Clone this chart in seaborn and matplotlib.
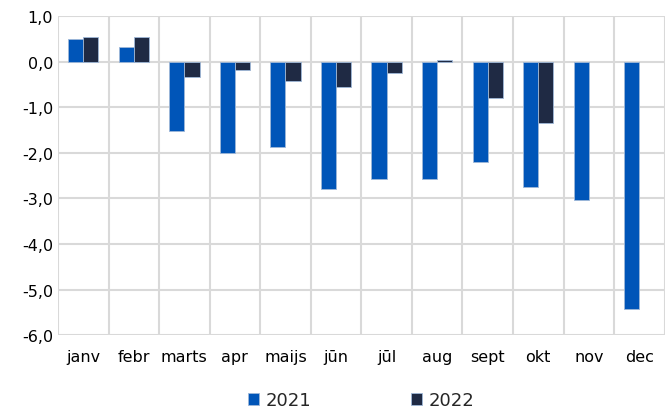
import numpy as np
import pandas as pd
import matplotlib
matplotlib.use("Agg")
import matplotlib.pyplot as plt
import seaborn as sns

months = ["janv", "febr", "marts", "apr", "maijs", "jūn", "jūl", "aug", "sept", "okt", "nov", "dec"]
vals2021 = [0.51, 0.32, -1.52, -2.0, -1.87, -2.8, -2.58, -2.58, -2.19, -2.74, -3.04, -5.43]
vals2022 = [0.55, 0.55, -0.33, -0.18, -0.42, -0.56, -0.24, 0.03, -0.79, -1.35, np.nan, np.nan]
years = ["2021", "2022"]
colors = ["#0055B8", "#1F2A44"]

df = pd.DataFrame({
    "month": months * 2,
    "value": vals2021 + vals2022,
    "year": [years[0]] * 12 + [years[1]] * 12,
})

sns.set_style("white")
plt.rcParams['font.family'] = ['DejaVu Sans']

fig, ax = plt.subplots(figsize=(6.66, 4.10), dpi=100)
fig.subplots_adjust(left=0.087, right=0.998, top=0.958, bottom=0.18)

sns.barplot(data=df, x="month", y="value", hue="year", palette=colors, saturation=1,
            width=0.6, edgecolor="#9fb8d8", linewidth=0.6, ax=ax, zorder=3)

ax.set_ylim(-6, 1)
ax.set_yticks(np.arange(-6, 1.01, 1))
ax.set_yticklabels([("%.1f" % v).replace(".", ",") for v in np.arange(-6, 1.01, 1)])
ax.set_xlim(-0.5, 11.5)
ax.set_xticks(np.arange(-0.5, 12, 1), minor=True)
ax.grid(axis="y", color="#d9d9d9", linewidth=1.5, zorder=0)
ax.grid(axis="x", which="minor", color="#d9d9d9", linewidth=1.5, zorder=0)
ax.grid(axis="x", which="major", visible=False)
ax.tick_params(axis="both", which="both", length=0, labelsize=11.5, colors="black")
ax.tick_params(axis="x", pad=10)
for s in ax.spines.values():
    s.set_visible(False)
ax.set_xlabel("")
ax.set_ylabel("")

handles, labels = ax.get_legend_handles_labels()
ax.legend(handles, labels, loc="upper center", bbox_to_anchor=(0.5, -0.125), ncol=2,
          frameon=False, fontsize=13, handlelength=0.6, handleheight=0.6,
          handletextpad=0.4, columnspacing=5.5)

fig.savefig("out.png", dpi=100)
